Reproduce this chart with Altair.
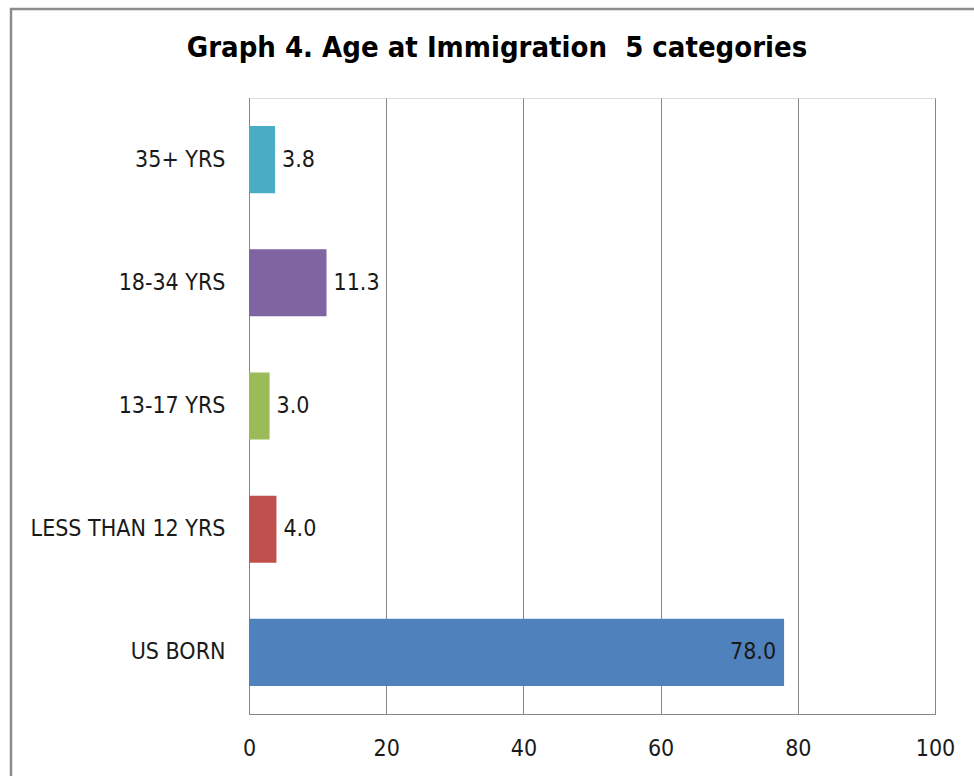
import altair as alt
import pandas as pd

# Age at immigration, percent of respondents
categories = ["35+ YRS", "18-34 YRS", "13-17 YRS", "LESS THAN 12 YRS", "US BORN"]
values = [3.8, 11.3, 3.0, 4.0, 78.0]
colors = ["#4BACC6", "#8064A2", "#9BBB59", "#C0504D", "#4F81BD"]
x_ticks = [0, 20, 40, 60, 80, 100]

FONT = "DejaVu Sans Condensed, sans-serif"
GRID = "#868686"
TEXT = "#1a1a1a"
SIZE = 23

df = pd.DataFrame({"category": categories, "value": values})

y_enc = alt.Y(
    "category:N",
    sort=categories,
    title=None,
    scale=alt.Scale(paddingInner=0.455, paddingOuter=0.2275),
    axis=alt.Axis(
        ticks=False,
        grid=False,
        domainColor=GRID,
        labelFont=FONT,
        labelFontSize=SIZE,
        labelColor=TEXT,
        labelPadding=24,
        labelLimit=400,
    ),
)
x_enc = alt.X(
    "value:Q",
    title=None,
    scale=alt.Scale(domain=[0, 100], nice=False),
    axis=alt.Axis(
        values=x_ticks,
        ticks=False,
        grid=True,
        gridColor=GRID,
        gridOpacity=1,
        domainColor=GRID,
        labelFont=FONT,
        labelFontSize=SIZE,
        labelColor=TEXT,
        labelPadding=23,
        labelFlush=False,
    ),
)

bars = alt.Chart(df).mark_bar().encode(
    y=y_enc,
    x=x_enc,
    color=alt.Color("category:N", scale=alt.Scale(domain=categories, range=colors), legend=None),
)

labels_out = alt.Chart(df).transform_filter("datum.value < 50").mark_text(
    align="left", baseline="middle", dx=7, font=FONT, fontSize=SIZE, color=TEXT
).encode(
    y=alt.Y("category:N", sort=categories),
    x="value:Q",
    text=alt.Text("value:Q", format=".1f"),
)

labels_in = alt.Chart(df).transform_filter("datum.value >= 50").mark_text(
    align="right", baseline="middle", dx=-8, font=FONT, fontSize=SIZE, color=TEXT
).encode(
    y=alt.Y("category:N", sort=categories),
    x="value:Q",
    text=alt.Text("value:Q", format=".1f"),
)

# outer frame of the chart area
frame = alt.Chart(pd.DataFrame({"k": [0]})).mark_rect(
    fill=None, stroke="#8c8c8c", strokeWidth=2.5
).encode(
    x=alt.value(-238), x2=alt.value(1000), y=alt.value(-89), y2=alt.value(900)
)

chart = alt.layer(frame, bars, labels_out, labels_in).properties(
    width=686,
    height=616,
    autosize=alt.AutoSizeParams(type="none"),
    padding={"left": 249, "top": 98, "right": 39, "bottom": 62},
    title=alt.TitleParams(
        "Graph 4. Age at Immigration \u00a05 categories",
        font=FONT,
        fontSize=29,
        fontWeight="bold",
        color="#000000",
        anchor="middle",
        frame="group",
        baseline="middle",
        dx=-95,
        offset=-69,
    ),
).configure_view(stroke=None).configure(background="white")

chart.save("out.html", embed_options={"renderer": "svg", "actions": False})
